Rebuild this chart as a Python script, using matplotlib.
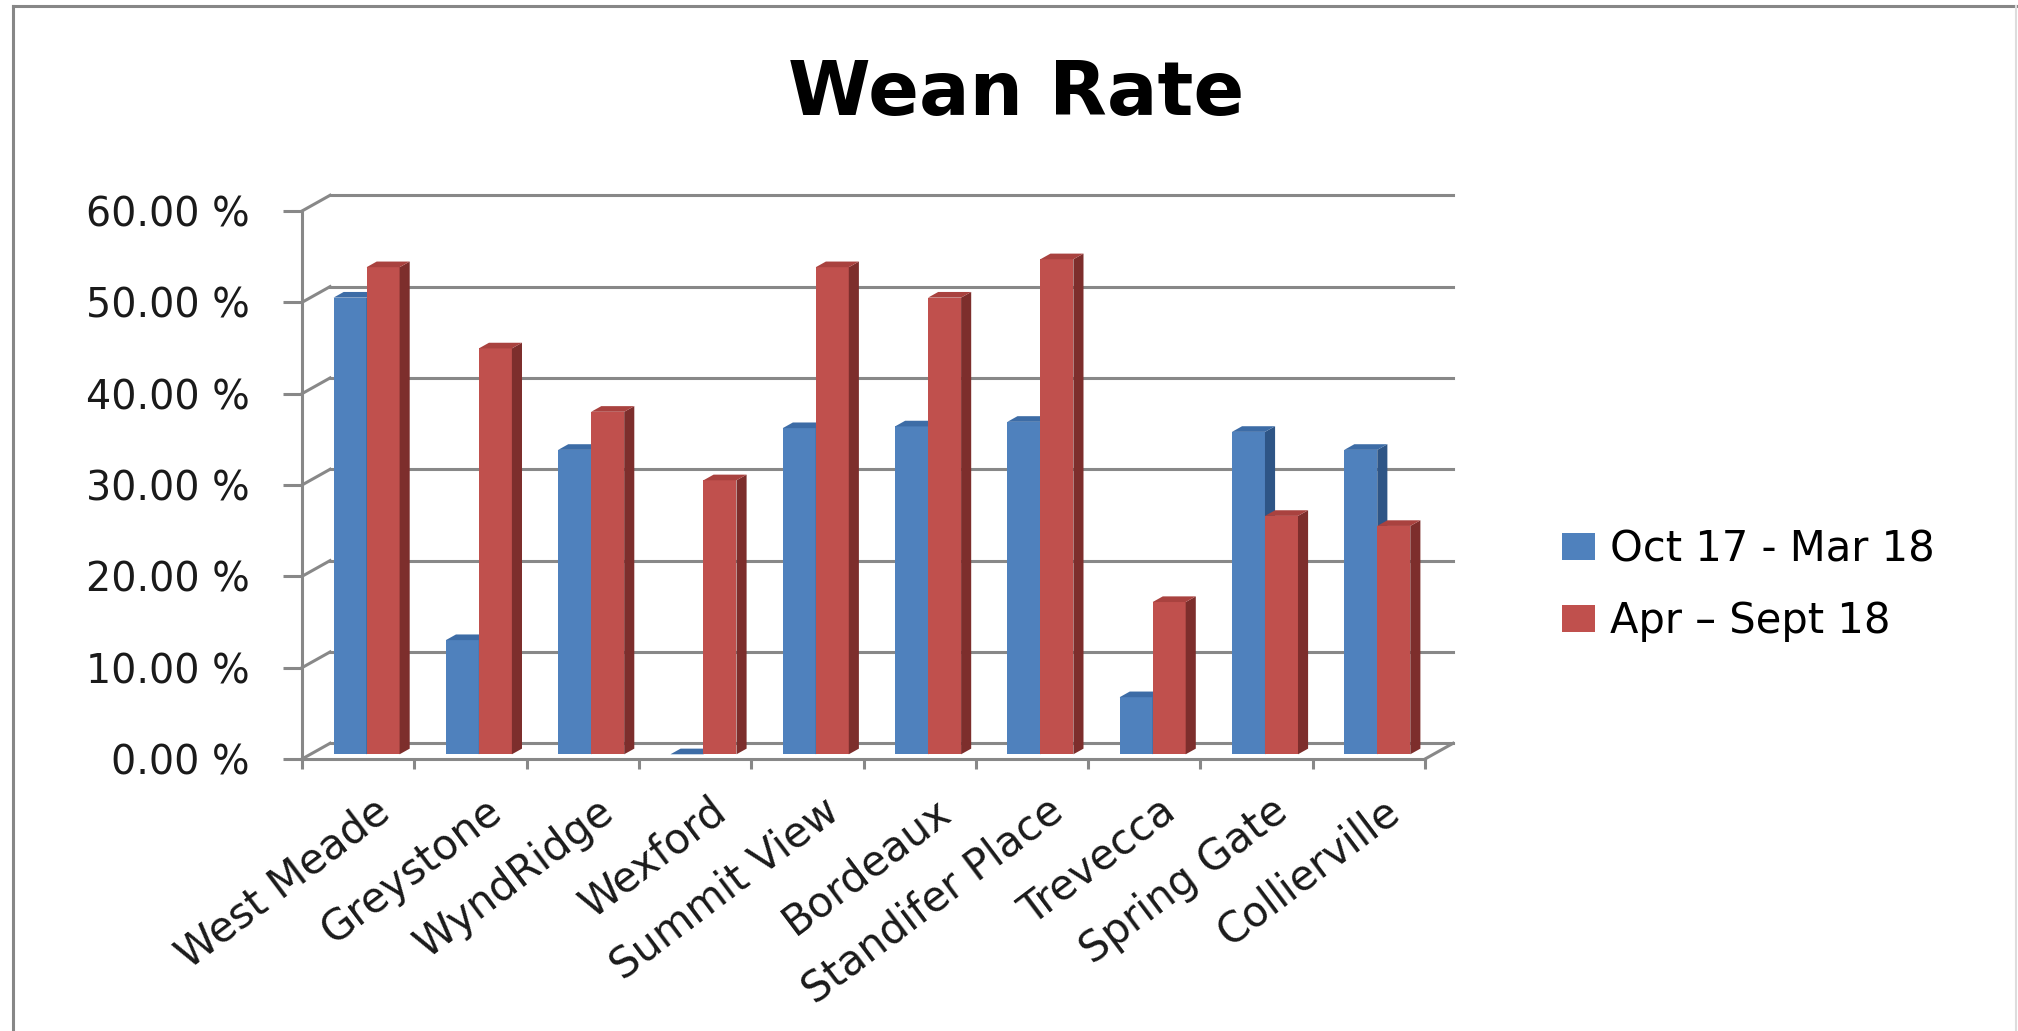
import numpy as np
import matplotlib.pyplot as plt
import matplotlib.transforms as mtransforms
from matplotlib.patches import Polygon, Patch
from matplotlib.lines import Line2D

# data (percent)
sites = ["West Meade", "Greystone", "WyndRidge", "Wexford", "Summit View",
         "Bordeaux", "Standifer Place", "Trevecca", "Spring Gate", "Collierville"]
oct_mar = [50.0, 12.5, 33.33, 0.0, 35.71, 35.9, 36.4, 6.25, 35.3, 33.33]
apr_sep = [53.33, 44.44, 37.5, 30.0, 53.33, 50.0, 54.2, 16.67, 26.1, 25.0]
series_names = ["Oct 17 - Mar 18", "Apr \u2013 Sept 18"]

blue = ("#4F81BD", "#3D6CA6", "#2E5586")   # front, top, side
red = ("#C0504D", "#A9423F", "#7D2E2C")
grid_c = "#888888"

W, H = 2018, 1031
fig = plt.figure(figsize=(W / 100, H / 100), dpi=100)
fig.patch.set_facecolor("white")

ax = fig.add_axes([302 / W, (H - 759) / H, 1123 / W, 548 / H])
ax.set_xlim(0, 10)
ax.set_ylim(0, 60)
ax.set_facecolor("none")

# fake 3d depth of the plot box (data units)
DX, DY = 0.25, 1.72
f0, fd = 0.30, 0.36          # bar plane position and bar depth, as fraction of box depth
lw = 2.2

# back wall grid + left wall diagonals
for v in range(0, 61, 10):
    ax.plot([DX, 10 + DX], [v + DY, v + DY], color=grid_c, lw=lw, clip_on=False, zorder=1)
    ax.plot([0, DX], [v, v + DY], color=grid_c, lw=lw, clip_on=False, zorder=1)
ax.plot([10, 10 + DX], [0, DY], color=grid_c, lw=lw, clip_on=False, zorder=1)

# bars
bw = 0.294
gap = (1 - 2 * bw) / 2
bx, by = f0 * DX, f0 * DY
ddx, ddy = fd * DX, fd * DY
x = np.arange(len(sites))
for k, (vals, cols) in enumerate([(oct_mar, blue), (apr_sep, red)]):
    left = x + gap + bx + k * bw
    ax.bar(left, vals, width=bw, bottom=by, align="edge", color=cols[0],
           zorder=3 + k, clip_on=False)
    for xl, v in zip(left, vals):
        top = by + v
        xr = xl + bw
        side = Polygon([(xr, by), (xr + ddx, by + ddy), (xr + ddx, top + ddy), (xr, top)],
                       closed=True, facecolor=cols[2], edgecolor="none",
                       zorder=3 + k, clip_on=False)
        lid = Polygon([(xl, top), (xr, top), (xr + ddx, top + ddy), (xl + ddx, top + ddy)],
                      closed=True, facecolor=cols[1], edgecolor="none",
                      zorder=3 + k, clip_on=False)
        ax.add_patch(side)
        ax.add_patch(lid)

# axes styling
for s in ["top", "right"]:
    ax.spines[s].set_visible(False)
for s in ["left", "bottom"]:
    ax.spines[s].set_color(grid_c)
    ax.spines[s].set_linewidth(lw)
    ax.spines[s].set_zorder(2)

ax.set_yticks(range(0, 61, 10))
ax.set_yticklabels([f"{v:.2f} %" for v in range(0, 61, 10)])
ax.tick_params(axis="y", length=13.7, width=lw, color=grid_c, pad=24,
               labelsize=28.5, labelcolor="#1a1a1a")

ax.set_xticks(range(11))
ax.set_xticklabels([""] * 11)
ax.tick_params(axis="x", which="major", length=7.2, width=lw, color=grid_c)
ax.set_xticks(x + 0.5, sites, minor=True, rotation=37, ha="right",
              rotation_mode="anchor", fontsize=30, color="#1a1a1a")
ax.tick_params(axis="x", which="minor", length=0, pad=22)
offset = mtransforms.ScaledTranslation(14 / 100, 0, fig.dpi_scale_trans)
for lab in ax.get_xticklabels(minor=True):
    lab.set_transform(lab.get_transform() + offset)

fig.text(1016 / W, 1 - 95 / H, "Wean Rate", ha="center", va="center",
         fontsize=54, fontweight="bold")

handles = [Patch(facecolor=blue[0]), Patch(facecolor=red[0])]
fig.legend(handles, series_names, loc="center left",
           bbox_to_anchor=(1562 / W, 1 - 585 / H), frameon=False, fontsize=30,
           handlelength=0.8, handleheight=0.6, handletextpad=0.34,
           labelspacing=0.72, borderpad=0, borderaxespad=0)

# outer chart frame
fig.add_artist(Line2D([13 / W, 13 / W], [0, 1 - 6 / H], color="#878787", lw=2.2))
fig.add_artist(Line2D([13 / W, 1], [1 - 6 / H, 1 - 6 / H], color="#878787", lw=2.2))
fig.add_artist(Line2D([2016 / W, 2016 / W], [0, 1 - 6 / H], color="#dddddd", lw=1.5))

fig.savefig("out.png", dpi=100)
